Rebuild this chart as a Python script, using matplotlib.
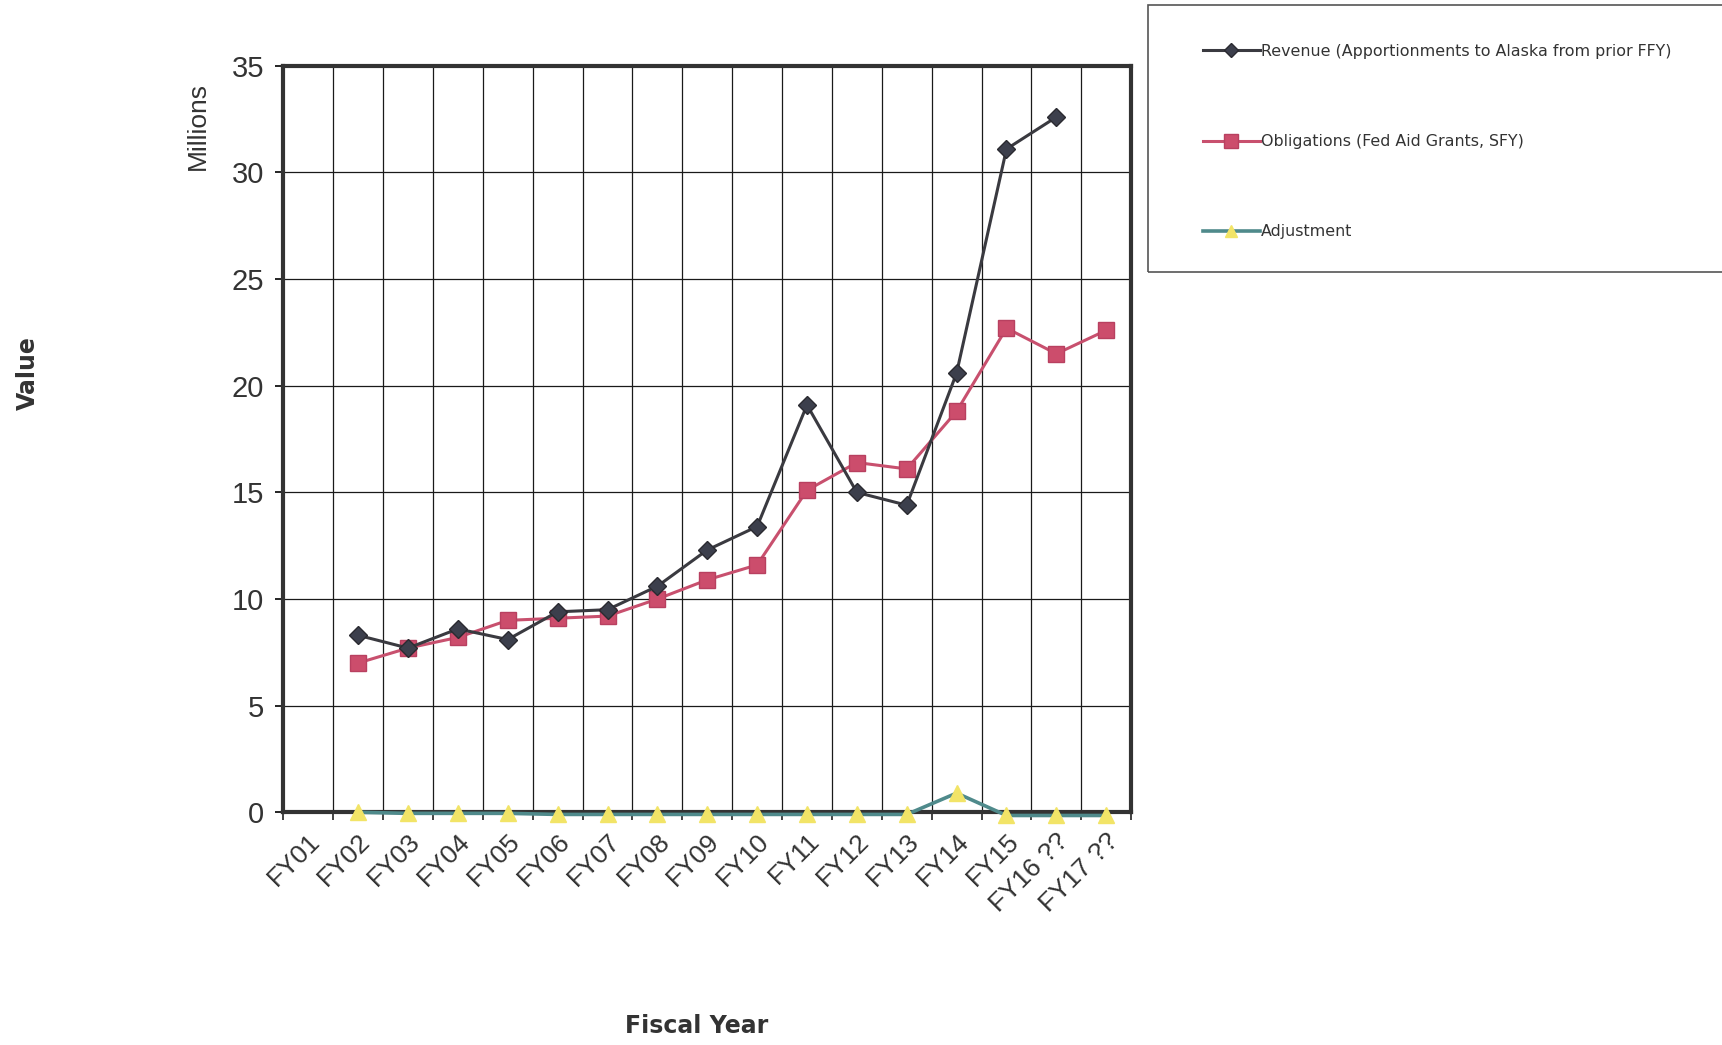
import numpy as np
import matplotlib
matplotlib.use('Agg')
import matplotlib.pyplot as plt
from matplotlib.patches import Rectangle

# 数据
years = ['FY01', 'FY02', 'FY03', 'FY04', 'FY05', 'FY06', 'FY07', 'FY08', 'FY09',
         'FY10', 'FY11', 'FY12', 'FY13', 'FY14', 'FY15', 'FY16 ??', 'FY17 ??']
revenue = [np.nan, 8.3, 7.7, 8.6, 8.1, 9.4, 9.5, 10.6, 12.3, 13.4, 19.1, 15.0, 14.4,
           20.6, 31.1, 32.6, np.nan]
obligations = [np.nan, 7.0, 7.7, 8.2, 9.0, 9.1, 9.2, 10.0, 10.9, 11.6, 15.1, 16.4, 16.1,
               18.8, 22.7, 21.5, 22.6]
adjustment = [np.nan, 0.0, -0.05, -0.05, -0.05, -0.1, -0.1, -0.1, -0.1, -0.1, -0.1, -0.1,
              -0.1, 0.9, -0.15, -0.15, -0.15]
W, H = 1568, 952  # 参考图坐标


def draw():
    fig = plt.figure(figsize=(17.22, 10.45), dpi=100)
    ax = fig.add_axes([258 / W, 1 - 740 / H, (1030 - 258) / W, (740 - 60) / H])
    x = np.arange(len(years))

    ax.plot(x, revenue, color='#3a3a40', lw=2.2, marker='D', markersize=9,
            markerfacecolor='#3c3f4c', markeredgecolor='#2a2a30',
            label='Revenue (Apportionments to Alaska from prior FFY)', zorder=4)
    ax.plot(x, obligations, color='#c8506e', lw=2.2, marker='s', markersize=12,
            markerfacecolor='#cc4d6c', markeredgecolor='#b84060',
            label='Obligations (Fed Aid Grants, SFY)', zorder=3)
    ax.plot(x, adjustment, color='#4f8a8b', lw=2.6, marker='^', markersize=11,
            markerfacecolor='#f2e467', markeredgecolor='#f2e467',
            label='Adjustment', zorder=5, clip_on=False)

    ax.set_xlim(-0.5, len(years) - 0.5)
    ax.set_ylim(0, 35)
    ax.set_yticks(range(0, 36, 5))
    ax.set_xticks(x)
    ax.set_xticks(np.arange(-0.5, len(years), 1), minor=True)
    ax.set_xticklabels(years, rotation=45, ha='right', rotation_mode='anchor',
                       fontsize=19, family='Liberation Sans', color='#333333')
    ax.tick_params(axis='x', which='major', length=0, pad=12)
    ax.tick_params(axis='x', which='minor', length=6, width=1.2, color='#222222')
    ax.tick_params(axis='y', labelsize=21, length=6, width=1.2, pad=8,
                   labelcolor='#333333')
    for lab in ax.get_yticklabels():
        lab.set_family('Liberation Sans')

    ax.grid(True, axis='y', which='major', color='#1a1a1a', lw=0.9)
    ax.grid(True, axis='x', which='minor', color='#1a1a1a', lw=0.9)
    for s in ax.spines.values():
        s.set_linewidth(3)
        s.set_color('#333333')

    # 轴标题
    fig.text(180 / W, 1 - 115 / H, 'Millions', rotation=90, ha='center', va='center',
             fontsize=19, family='Liberation Sans', color='#333333')
    fig.text(25 / W, 1 - 340 / H, 'Value', rotation=90, ha='center', va='center',
             fontsize=17, fontweight='bold', color='#333333')
    fig.text(634 / W, 1 - 935 / H, 'Fiscal Year', ha='center', va='center',
             fontsize=17, fontweight='bold', color='#333333')

    # 图例
    fig.patches.append(Rectangle((1045 / W, 1 - 248 / H), 0.5, 243 / H,
                                 transform=fig.transFigure, fill=False,
                                 edgecolor='#555555', lw=1.2))
    fig.legend(loc='upper left', bbox_to_anchor=(1082 / W, 1 - 27 / H), frameon=False,
               fontsize=11.4, labelspacing=4.75, handlelength=3.6, handletextpad=0.1,
               labelcolor='#333333', markerscale=0.8)

    plt.savefig('out.png')


if __name__ == '__main__':
    draw()
